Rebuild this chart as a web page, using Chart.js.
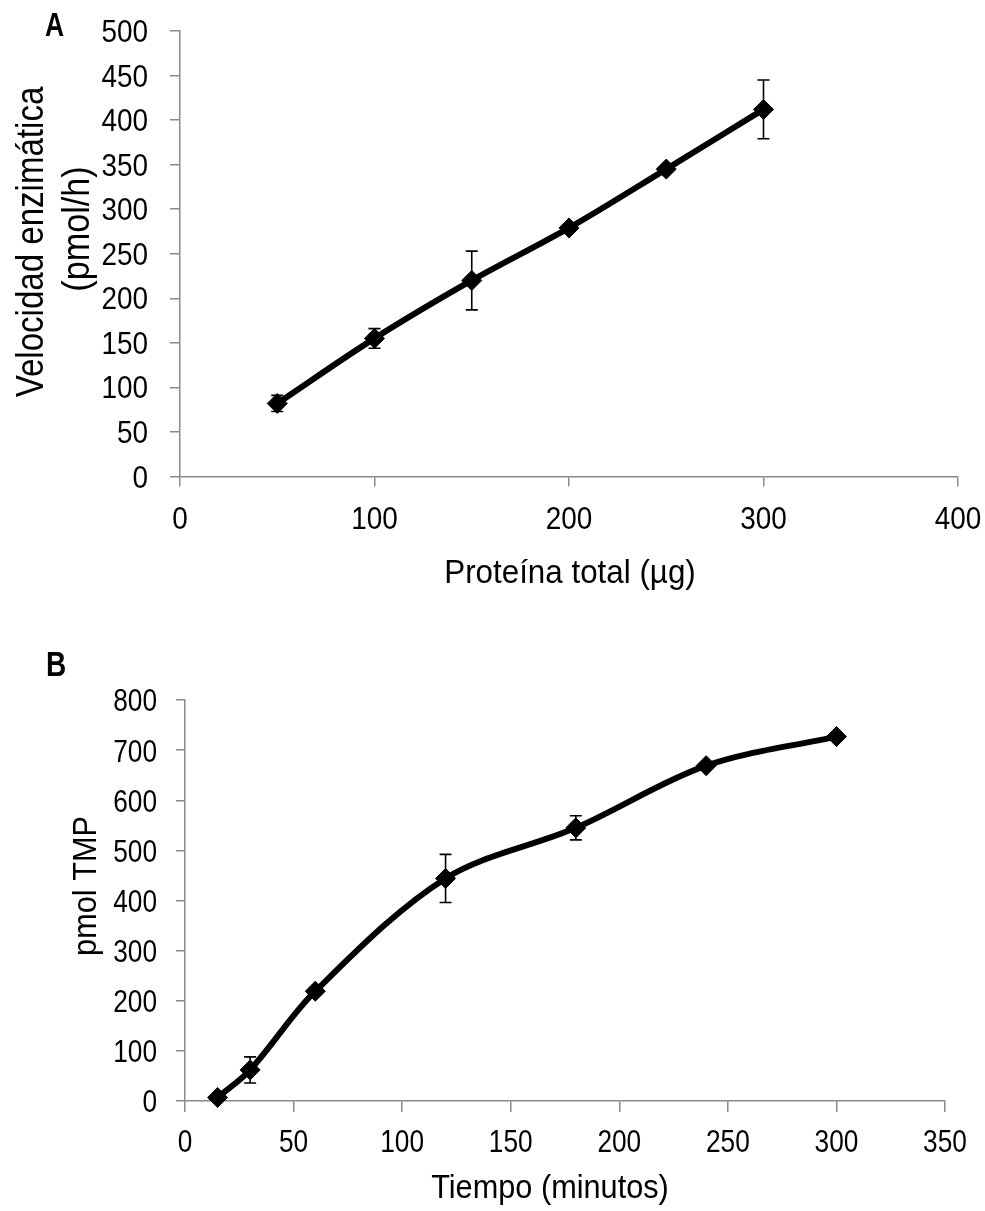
<!DOCTYPE html>
<html>
<head>
<meta charset="utf-8">
<script src="https://cdn.jsdelivr.net/npm/chart.js@4.4.0/dist/chart.umd.min.js"></script>
<style>
  html, body { margin: 0; padding: 0; background: #fff; }
  canvas { display: block; }
</style>
</head>
<body>
<canvas id="chartA" width="985" height="600"></canvas>
<canvas id="chartB" width="985" height="611"></canvas>
<script>
// panel A: enzyme rate vs total protein
const proteinUg = [50, 100, 150, 200, 250, 300];
const rateA = [82, 155, 220, 279, 345, 412];
const rateErrA = [9, 11, 33, 0, 0, 33];
const xTicksA = [0, 100, 200, 300, 400];
const yTicksA = [0, 50, 100, 150, 200, 250, 300, 350, 400, 450, 500];

// panel B: product vs time
const minutes = [15, 30, 60, 120, 180, 240, 300];
const tmpB = [7, 62, 219, 444, 545, 669, 727];
const tmpErrB = [0, 26, 0, 48, 24, 0, 0];
const xTicksB = [0, 50, 100, 150, 200, 250, 300, 350];
const yTicksB = [0, 100, 200, 300, 400, 500, 600, 700, 800];

const FONT = "'Liberation Sans', Arial, sans-serif";
const AXIS_GREY = '#8a8a8a';

// text squeezed horizontally (Arial Narrow look), optional rotation
function squeezed(ctx, text, x, y, size, sx, opts) {
  opts = opts || {};
  ctx.save();
  ctx.font = (opts.bold ? 'bold ' : '') + size + 'px ' + FONT;
  ctx.textAlign = opts.align || 'left';
  ctx.textBaseline = 'alphabetic';
  ctx.translate(x, y);
  if (opts.rotate) ctx.rotate(opts.rotate);
  ctx.scale(sx, 1);
  ctx.fillText(text, 0, 0);
  ctx.restore();
}

// vertical error bars with caps, drawn under the markers
function errorBarPlugin(errs) {
  return {
    id: 'errorBars',
    beforeDatasetsDraw(chart) {
      const ctx = chart.ctx;
      const xs = chart.scales.x, ys = chart.scales.y;
      const data = chart.data.datasets[0].data;
      ctx.save();
      ctx.strokeStyle = '#000';
      ctx.lineWidth = 1.6;
      data.forEach((p, i) => {
        const e = errs[i];
        if (!e) return;
        const x = xs.getPixelForValue(p.x);
        const yTop = ys.getPixelForValue(p.y + e);
        const yBot = ys.getPixelForValue(p.y - e);
        ctx.beginPath();
        ctx.moveTo(x, yTop); ctx.lineTo(x, yBot);
        ctx.moveTo(x - 6, yTop); ctx.lineTo(x + 6, yTop);
        ctx.moveTo(x - 6, yBot); ctx.lineTo(x + 6, yBot);
        ctx.stroke();
      });
      ctx.restore();
    }
  };
}

// tick labels, axis titles and the panel letter
function axisTextPlugin(t) {
  return {
    id: 'axisText',
    afterDraw(chart) {
      const ctx = chart.ctx;
      const xs = chart.scales.x, ys = chart.scales.y;
      const area = chart.chartArea;
      ctx.save();
      ctx.fillStyle = '#000';
      xs.ticks.forEach(tk => {
        squeezed(ctx, String(tk.value), xs.getPixelForValue(tk.value), area.bottom + t.xLabelDy,
          t.tickSize, t.tickSx, { align: 'center' });
      });
      ys.ticks.forEach(tk => {
        squeezed(ctx, String(tk.value), area.left - t.yLabelDx, ys.getPixelForValue(tk.value) + 0.358 * t.tickSize,
          t.tickSize, t.tickSx, { align: 'right' });
      });
      const xt = t.xTitle;
      squeezed(ctx, xt.text, xt.x, xt.y, xt.size, xt.sx, { align: 'center' });
      t.yTitle.forEach(yt => {
        squeezed(ctx, yt.text, yt.x, yt.y, yt.size, yt.sx, { align: 'center', rotate: -Math.PI / 2 });
      });
      const l = t.letter;
      squeezed(ctx, l.text, l.x, l.y, l.size, l.sx, { bold: true });
      ctx.restore();
    }
  };
}

function makeChart(id, o) {
  const axisGrid = len => ({ drawOnChartArea: false, drawTicks: true, tickLength: len, color: AXIS_GREY, lineWidth: 1.5 });
  return new Chart(document.getElementById(id), {
    type: 'line',
    data: {
      datasets: [{
        data: o.xs.map((x, i) => ({ x: x, y: o.ys[i] })),
        borderColor: '#000',
        backgroundColor: '#000',
        borderWidth: 6,
        tension: 0.33,
        pointStyle: 'rectRot',
        pointRadius: 10,
        pointBorderWidth: 1,
        pointBackgroundColor: '#000',
        pointBorderColor: '#000',
        clip: false
      }]
    },
    options: {
      responsive: false,
      animation: false,
      events: [],
      layout: { padding: o.padding },
      plugins: { legend: { display: false }, tooltip: { enabled: false } },
      scales: {
        x: {
          type: 'linear',
          min: o.xTicks[0],
          max: o.xTicks[o.xTicks.length - 1],
          afterBuildTicks: s => { s.ticks = o.xTicks.map(v => ({ value: v })); },
          afterFit: s => { s.height = o.xHeight; },
          grid: axisGrid(o.xTickLen),
          border: { color: AXIS_GREY, width: 1.5 },
          ticks: { display: false }
        },
        y: {
          type: 'linear',
          min: o.yTicks[0],
          max: o.yTicks[o.yTicks.length - 1],
          afterBuildTicks: s => { s.ticks = o.yTicks.map(v => ({ value: v })); },
          afterFit: s => { s.width = o.yWidth; },
          grid: axisGrid(o.yTickLen),
          border: { color: AXIS_GREY, width: 1.5 },
          ticks: { display: false }
        }
      }
    },
    plugins: [errorBarPlugin(o.errs), axisTextPlugin(o.text)]
  });
}

makeChart('chartA', {
  xs: proteinUg, ys: rateA, errs: rateErrA,
  xTicks: xTicksA, yTicks: yTicksA,
  padding: { top: 31, right: 27, bottom: 0, left: 0 },
  xHeight: 123.5, yWidth: 180,
  xTickLen: 10, yTickLen: 10,
  text: {
    tickSize: 31, tickSx: 0.9, xLabelDy: 52.5, yLabelDx: 32,
    xTitle: { text: 'Proteína total (µg)', x: 570, y: 583, size: 33, sx: 0.95 },
    yTitle: [
      { text: 'Velocidad enzimática', x: 43, y: 242, size: 38, sx: 0.87 },
      { text: '(pmol/h)', x: 89, y: 229, size: 38, sx: 0.9 }
    ],
    letter: { text: 'A', x: 45, y: 36, size: 33, sx: 0.8 }
  }
});

makeChart('chartB', {
  xs: minutes, ys: tmpB, errs: tmpErrB,
  xTicks: xTicksB, yTicks: yTicksB,
  padding: { top: 100, right: 40, bottom: 0, left: 0 },
  xHeight: 110, yWidth: 185,
  xTickLen: 11, yTickLen: 9,
  text: {
    tickSize: 32, tickSx: 0.82, xLabelDy: 51, yLabelDx: 28,
    xTitle: { text: 'Tiempo (minutos)', x: 550, y: 598, size: 33, sx: 0.93 },
    yTitle: [
      { text: 'pmol TMP', x: 96, y: 286, size: 33, sx: 0.93 }
    ],
    letter: { text: 'B', x: 46, y: 76, size: 35, sx: 0.8 }
  }
});
</script>
</body>
</html>
